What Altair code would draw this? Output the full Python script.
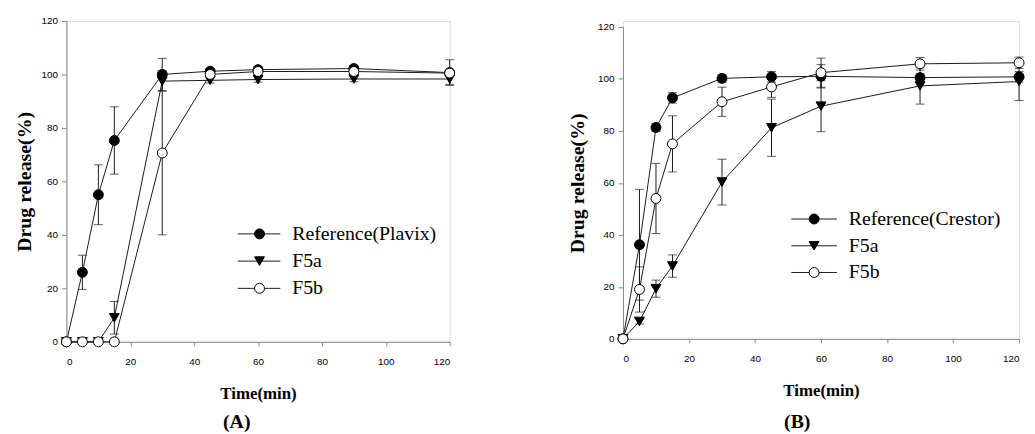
import altair as alt
import pandas as pd

# ---------------- data ----------------
time_min = [0, 5, 10, 15, 30, 45, 60, 90, 120]

series_a = ["Reference(Plavix)", "F5a", "F5b"]
ref_a = [0, 26.0, 55.0, 75.3, 100.0, 101.2, 101.8, 102.2, 100.7]
ref_a_sd = [0, 6.4, 11.2, 12.6, 6.0, 1.0, 1.0, 1.0, 4.8]
f5a_a = [0, 0, 0, 9.0, 97.5, 97.8, 98.1, 98.3, 98.3]
f5a_a_sd = [0, 0, 0, 6.1, 3.8, 1.0, 1.0, 1.0, 2.0]
f5b_a = [0, 0, 0, 0, 70.6, 100.0, 101.1, 101.1, 100.5]
f5b_a_sd = [0, 0, 0, 0, 30.6, 1.0, 1.0, 1.0, 1.0]

series_b = ["Reference(Crestor)", "F5a", "F5b"]
ref_b = [0, 36.2, 81.3, 92.7, 100.2, 100.8, 101.0, 100.5, 100.8]
ref_b_sd = [0, 21.3, 1.5, 2.0, 1.5, 2.0, 4.5, 1.5, 2.0]
f5a_b = [0, 6.7, 19.3, 28.0, 60.3, 81.2, 89.5, 97.3, 99.0]
f5a_b_sd = [0, 1.0, 3.3, 4.3, 8.8, 11.0, 9.8, 7.0, 7.3]
f5b_b = [0, 19.0, 54.0, 75.0, 91.2, 96.9, 102.4, 105.8, 106.2]
f5b_b_sd = [0, 8.7, 13.5, 10.8, 5.6, 4.0, 5.6, 2.4, 2.2]

x_ticks = [0, 20, 40, 60, 80, 100, 120]
y_ticks = [0, 20, 40, 60, 80, 100, 120]

# ---------------- styles ----------------
SERIF = "Liberation Serif"
SANS = "Liberation Sans"
INK = "#1a1a1a"
SHAPES = ["circle", "triangle-down", "circle"]
FILLS = ["black", "black", "white"]
MSIZE = 100


def build_df(names, values, sds):
    rows = []
    for name, vals, sd in zip(names, values, sds):
        for t, v, s in zip(time_min, vals, sd):
            rows.append({"time": t, "release": v, "sd": s, "series": name,
                         "lo": v - s, "hi": v + s})
    return pd.DataFrame(rows)


def panel(df, names, width, height, yrange, y_title_pad, legend, label, label_pos):
    xax = alt.Axis(values=x_ticks, title="Time(min)", grid=False, tickSize=4,
                   labelPadding=11, titlePadding=19, titleFont=SERIF,
                   titleFontWeight="bold", titleFontSize=17)
    yax = alt.Axis(values=y_ticks, title="Drug release(%)", grid=False, tickSize=5,
                   labelPadding=4, titlePadding=y_title_pad, titleFont=SERIF,
                   titleFontWeight="bold", titleFontSize=20)
    xs = alt.Scale(domain=[0, 120], nice=False, zero=False)
    ys = alt.Scale(domain=[0, 120], nice=False, range=yrange)

    def X(f):
        return alt.X(f, scale=xs, axis=xax)

    def Y(f):
        return alt.Y(f, scale=ys, axis=yax)

    base = alt.Chart(df)
    lines = base.mark_line(color=INK, strokeWidth=1).encode(
        x=X("time:Q"), y=Y("release:Q"), detail="series:N", order="time:Q")
    err = base.transform_filter("datum.sd > 0")
    rules = err.mark_rule(color=INK, strokeWidth=1).encode(
        x=X("time:Q"), y=Y("lo:Q"), y2="hi:Q")
    cap_lo = err.mark_tick(orient="horizontal", size=9, thickness=1, color=INK).encode(
        x=X("time:Q"), y=Y("lo:Q"))
    cap_hi = err.mark_tick(orient="horizontal", size=9, thickness=1, color=INK).encode(
        x=X("time:Q"), y=Y("hi:Q"))
    pts = base.mark_point(filled=True, size=MSIZE, stroke="black", strokeWidth=1,
                          opacity=1, fillOpacity=1).encode(
        x=X("time:Q"), y=Y("release:Q"),
        fill=alt.Fill("series:N", scale=alt.Scale(domain=names, range=FILLS), legend=None),
        shape=alt.Shape("series:N", scale=alt.Scale(domain=names, range=SHAPES), legend=None),
    )

    layers = [lines, rules, cap_lo, cap_hi, pts]

    (lx0, lx1, sx, tx, ly0, lstep) = legend
    for i, name in enumerate(names):
        ly = ly0 + i * lstep
        ldf = pd.DataFrame({"series": [name]})
        layers.append(alt.Chart(ldf).mark_rule(color=INK, strokeWidth=1).encode(
            x=alt.value(lx0), x2=alt.value(lx1), y=alt.value(ly)))
        layers.append(alt.Chart(ldf).mark_point(
            filled=True, size=MSIZE, shape=SHAPES[i], fill=FILLS[i], stroke="black",
            strokeWidth=1, opacity=1, fillOpacity=1).encode(
            x=alt.value(sx), y=alt.value(ly)))
        layers.append(alt.Chart(ldf).mark_text(
            align="left", baseline="middle", font=SERIF, fontSize=20, color="black").encode(
            text="series:N", x=alt.value(tx), y=alt.value(ly)))

    lab = pd.DataFrame({"label": [label]})
    layers.append(alt.Chart(lab).mark_text(
        align="center", baseline="middle", font=SERIF, fontWeight="bold", fontSize=20,
        color="black").encode(text="label:N", x=alt.value(label_pos[0]), y=alt.value(label_pos[1])))

    return alt.layer(*layers).properties(width=width, height=height)


df_a = build_df(series_a, [ref_a, f5a_a, f5b_a], [ref_a_sd, f5a_a_sd, f5b_a_sd])
df_b = build_df(series_b, [ref_b, f5a_b, f5b_b], [ref_b_sd, f5a_b_sd, f5b_b_sd])

pa = panel(df_a, series_a, 387, 324, [324, 0], 7,
           (173, 216, 195, 228, 215, 27.5), "(A)", (172, 405))
pb = panel(df_b, series_b, 400, 321, [321, 6], 10,
           (170, 216, 193, 228, 200, 27), "(B)", (176, 405))

chart = alt.hconcat(pa, pb, spacing=110).properties(
    padding={"left": 5, "top": 5, "right": 0, "bottom": 0}
).configure_view(stroke=None).configure_axis(
    domainColor=INK, tickColor=INK, labelFont=SANS, labelFontSize=10,
    labelColor="#222222", titleColor="black", domainWidth=1, tickWidth=1,
).configure(background="white")

chart.save("out.html", embed_options={"renderer": "svg", "actions": False})
